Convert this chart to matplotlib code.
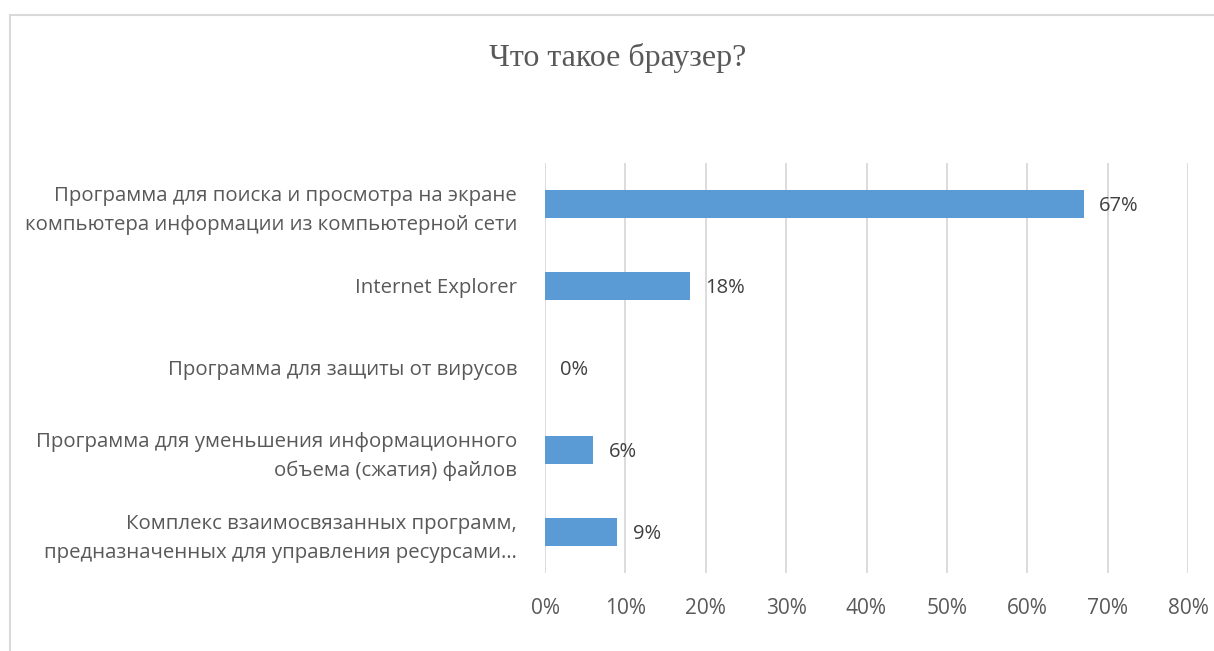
import matplotlib
matplotlib.use("Agg")
import matplotlib.pyplot as plt
from matplotlib.patches import Rectangle
from matplotlib.ticker import FixedLocator

title = "Что такое браузер?"
categories = [
    "Программа для поиска и просмотра на экране\nкомпьютера информации из компьютерной сети",
    "Internet Explorer",
    "Программа для защиты от вирусов",
    "Программа для уменьшения информационного\nобъема (сжатия) файлов",
    "Комплекс взаимосвязанных программ,\nпредназначенных для управления ресурсами…",
]
values = [67, 18, 0, 6, 9]
x_ticks = [0, 10, 20, 30, 40, 50, 60, 70, 80]

W, H = 1214, 651
fig = plt.figure(figsize=(W / 100, H / 100), dpi=100)
fig.patch.set_facecolor("white")

# chart frame
fig.patches.append(Rectangle((9.5 / W, -0.1), 1.2, (H - 14.5) / H + 0.1,
                             transform=fig.transFigure, fill=False,
                             edgecolor="#d9d9d9", linewidth=1.5))

ax = fig.add_axes([545 / W, 1 - 573 / H, (1188 - 545) / W, (573 - 163) / H])
ypos = list(range(len(categories)))
ax.barh(ypos, values, height=0.34, color="#5b9bd5", zorder=3)
ax.set_xlim(0, 80)
ax.set_ylim(len(categories) - 0.5, -0.5)

ax.xaxis.set_major_locator(FixedLocator(x_ticks))
ax.set_xticklabels([f"{t}%" for t in x_ticks])
ax.grid(axis="x", color="#d9d9d9", linewidth=1.3, zorder=0)
for s in ax.spines.values():
    s.set_visible(False)
ax.tick_params(axis="both", length=0, labelcolor="#595959")
ax.tick_params(axis="x", pad=18, labelsize=15)
ax.tick_params(axis="y", pad=20, labelsize=14.7)
ax.set_yticks(ypos)
ax.set_yticklabels(categories, ha="right", linespacing=1.55)
for lab in ax.get_xticklabels() + ax.get_yticklabels():
    lab.set_fontfamily("Open Sans")

# value labels next to each bar
for y, v in zip(ypos, values):
    ax.text(v + 1.9, y + 0.02, f"{v}%", va="center", ha="left", fontsize=14.5,
            color="#404040", family="Open Sans")

fig.text(618 / W, 1 - 58 / H, title, ha="center", va="center",
         fontsize=23, color="#595959", family="Liberation Serif")

fig.savefig("out.png", dpi=100)
